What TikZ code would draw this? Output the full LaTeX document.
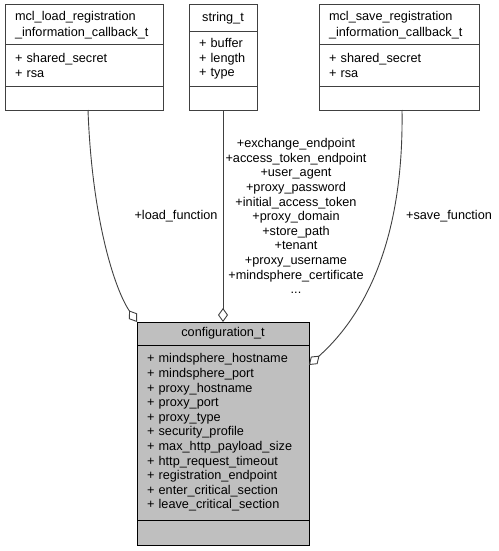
\documentclass[tikz,border=0pt]{standalone}
\usepackage{fontspec}
\setmainfont{Liberation Sans}
\usetikzlibrary{positioning,arrows.meta}
\definecolor{edgegray}{HTML}{404040}
\definecolor{maingray}{HTML}{BFBFBF}
\newcommand{\dxfont}{\fontsize{12.7}{14.6}\selectfont}
\tikzset{
  cls/.style={draw=edgegray, fill=white, rectangle, outer sep=0pt, inner xsep=10pt, inner ysep=0pt, line width=1pt, font=\dxfont, align=left},
  clstitle/.style={cls, align=center},
  member/.style={draw=edgegray, line width=0.9pt, -{Diamond[open, length=14pt, width=10pt]}},
  lbl/.style={font=\dxfont, align=center, inner sep=0pt},
}
\begin{document}
\begin{tikzpicture}[x=1pt, y=-1pt]
\useasboundingbox (0,0) rectangle (498,551);
\node[cls, text width=138pt, minimum height=40pt, anchor=north west] (loadT) at (5,5) {mcl\_load\_registration\\[2pt]\_information\_callback\_t};
\node[cls, text width=138pt, minimum height=41pt, below=0pt of loadT] (loadA) {+ shared\_secret\\+ rsa};
\node[cls, text width=138pt, minimum height=24pt, below=0pt of loadA] (loadO) {};

\node[clstitle, text width=48pt, minimum height=27pt, anchor=north west] (strT) at (189,5) {string\_t};
\node[cls, text width=48pt, minimum height=54pt, below=0pt of strT] (strA) {+ buffer\\+ length\\+ type};
\node[cls, text width=48pt, minimum height=24pt, below=0pt of strA] (strO) {};

\node[cls, text width=140pt, minimum height=40pt, anchor=north west] (saveT) at (319,5) {mcl\_save\_registration\\[2pt]\_information\_callback\_t};
\node[cls, text width=140pt, minimum height=41pt, below=0pt of saveT] (saveA) {+ shared\_secret\\+ rsa};
\node[cls, text width=140pt, minimum height=24pt, below=0pt of saveA] (saveO) {};

\node[clstitle, draw=black, fill=maingray, text width=152pt, minimum height=23pt, anchor=north west] (confT) at (137,322) {configuration\_t};
\node[cls, draw=black, fill=maingray, text width=152pt, minimum height=175pt, below=0pt of confT] (confA) {+ mindsphere\_hostname\\+ mindsphere\_port\\+ proxy\_hostname\\+ proxy\_port\\+ proxy\_type\\+ security\_profile\\+ max\_http\_payload\_size\\+ http\_request\_timeout\\+ registration\_endpoint\\+ enter\_critical\_section\\+ leave\_critical\_section};
\node[cls, draw=black, fill=maingray, text width=152pt, minimum height=25pt, below=0pt of confA] (confO) {};

\draw[member] ([xshift=4pt]loadO.south) .. controls (92,220) and (115,290) .. (confT.north west);
\draw[member] (strO.south) -- (confT.north);
\draw[member] ([xshift=3pt]saveO.south) .. controls (404,240) and (365,315) .. ([yshift=-20pt]confA.north east);

\node[lbl] (loadL) at (176,216) {+load\_function};
\node[lbl] (strL) at (296,216) {+exchange\_endpoint\\+access\_token\_endpoint\\+user\_agent\\+proxy\_password\\+initial\_access\_token\\+proxy\_domain\\+store\_path\\+tenant\\+proxy\_username\\+mindsphere\_certificate\\...};
\node[lbl] (saveL) at (449,216) {+save\_function};
\end{tikzpicture}
\end{document}
